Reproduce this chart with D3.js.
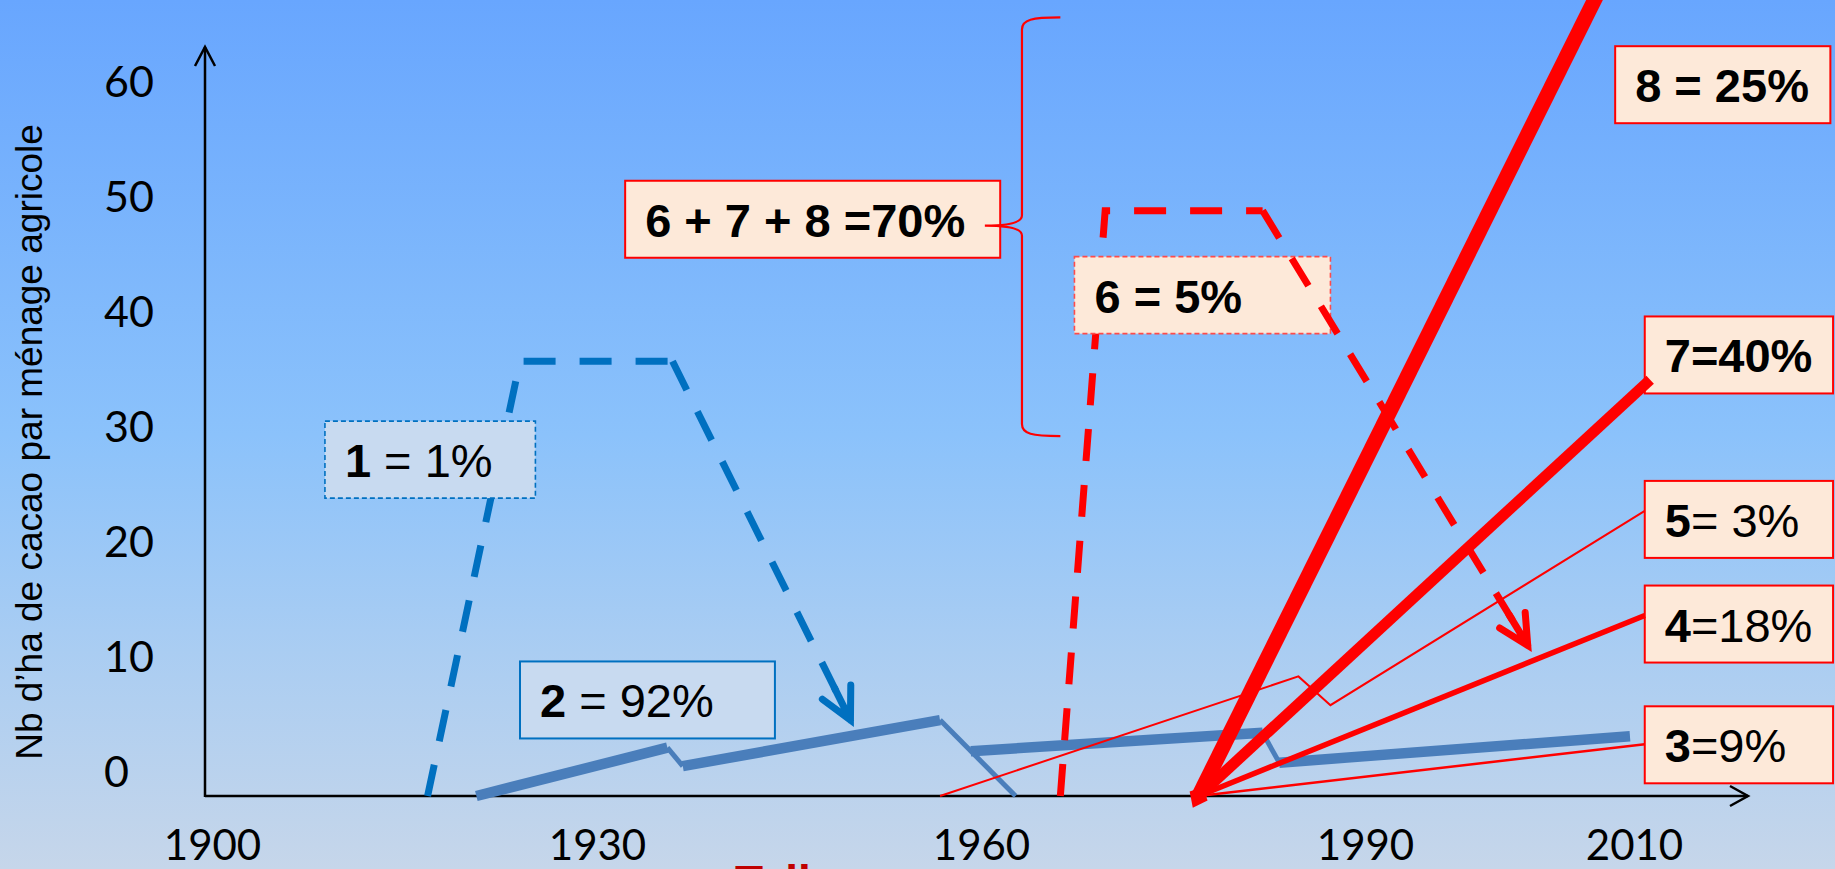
<!DOCTYPE html>
<html>
<head>
<meta charset="utf-8">
<script src="https://cdn.jsdelivr.net/npm/d3@7"></script>
<style>
  html, body { margin: 0; padding: 0; overflow: hidden; background: #c6d6ea; }
  svg { display: block; }
</style>
</head>
<body>
<svg id="chart" width="1835" height="869"></svg>
<script>
// ---------- data ----------
const xTickYears = [1900, 1930, 1960, 1990, 2010];
const yTickValues = [0, 10, 20, 30, 40, 50, 60];
const yTitle = "Nb d\u2019ha de cacao par ménage agricole";

// [year, ha per household]
const traj1 = [[1916.8, 0], [1924.0, 37.8], [1935.9, 37.8], [1949.8, 6.6]];
const traj2Thick = [
  [[1920.6, 0], [1935.5, 4.2]],
  [[1936.7, 2.6], [1956.8, 6.6]],
  [[1959.2, 3.9], [1982.0, 5.5]],
  [[1983.3, 2.9], [2009.7, 5.2]]
];
const traj2Thin = [
  [[1935.5, 4.2], [1936.7, 2.6]],
  [[1956.8, 6.6], [1962.7, 0]],
  [[1982.0, 5.5], [1983.3, 2.9]]
];
const traj3 = [[1977.0, 0], [2010.8, 4.5]];
const traj4 = [[1977.0, 0], [2010.8, 15.7]];
const traj5 = [[1956.8, 0], [1984.8, 10.4], [1987.3, 7.9], [2010.8, 24.8]];
const traj6 = [[1966.2, 0], [1969.7, 50.9], [1982.0, 50.9], [2002.1, 13.1]];
const traj7 = [[1977.0, 0], [2011.2, 36.2]];
const traj8 = [[1977.0, 0], [2008.5, 72.6]];

// callout texts: [text, bold]
const label1 = [["1", true], [" = 1%", false]];
const label2 = [["2", true], [" = 92%", false]];
const label678 = [["6 + 7 + 8 =70%", true]];
const label6 = [["6 = 5%", true]];
const label8 = [["8 = 25%", true]];
const label7 = [["7=40%", true]];
const label5 = [["5", true], ["= 3%", false]];
const label4 = [["4", true], ["=18%", false]];
const label3 = [["3", true], ["=9%", false]];

// ---------- layout ----------
const W = 1835, H = 869;
const axisLeftX = 205, axisBottomY = 796, axisTopY = 47, axisRightX = 1748;
const BOX_H = 77;
const boxLayout = [
  { parts: label1,   x0: 1908.8, x1: 1925.2, top: 32.6, kind: "blueDashed" },
  { parts: label2,   x0: 1924.0, x1: 1943.9, top: 11.7, kind: "blue" },
  { parts: label678, x0: 1932.2, x1: 1961.5, top: 53.5, kind: "red" },
  { parts: label6,   x0: 1967.3, x1: 1987.3, top: 46.9, kind: "redDashed" },
  { parts: label8,   x0: 2008.6, x1: 2024.6, top: 65.2, kind: "red" },
  { parts: label7,   x0: 2010.8, x1: 2024.8, top: 41.7, kind: "red" },
  { parts: label5,   x0: 2010.8, x1: 2024.8, top: 27.4, kind: "red" },
  { parts: label4,   x0: 2010.8, x1: 2024.8, top: 18.3, kind: "red" },
  { parts: label3,   x0: 2010.8, x1: 2024.8, top: 7.8,  kind: "red" }
];
const boxStyles = {
  blue:       { fill: "#c8daf0", stroke: "#0070c0", width: 2,   dash: null },
  blueDashed: { fill: "#c8daf0", stroke: "#0070c0", width: 1.6, dash: "5,3" },
  red:        { fill: "#fde9d9", stroke: "#ff0000", width: 2,   dash: null },
  redDashed:  { fill: "#fde9d9", stroke: "#ff4b4b", width: 1.6, dash: "5,3" }
};

const svg = d3.select("#chart");

// scales (hand-spaced decades on the time axis)
const x = d3.scaleLinear().domain(xTickYears).range([212, 597, 981, 1365, 1634]);
const y = d3.scaleLinear().domain([0, 60]).range([axisBottomY, axisBottomY - 690]);
const line = d3.line().x(d => x(d[0])).y(d => y(d[1]));

// ---------- background ----------
const defs = svg.append("defs");
const grad = defs.append("linearGradient").attr("id", "bg").attr("x1", 0).attr("y1", 0).attr("x2", 0).attr("y2", 1);
[[0, "#68a6fe"], [0.5, "#8bc2fb"], [0.75, "#aacdf2"], [1, "#c6d6ea"]]
  .forEach(([o, c]) => grad.append("stop").attr("offset", o).attr("stop-color", c));
svg.append("rect").attr("width", W).attr("height", H).attr("fill", "url(#bg)");

// ---------- axes ----------
const axes = svg.append("g").attr("stroke", "#000").attr("stroke-width", 2.5).attr("fill", "none");
axes.append("line").attr("x1", axisLeftX).attr("y1", axisBottomY + 1).attr("x2", axisLeftX).attr("y2", axisTopY);
axes.append("path").attr("d", `M${axisLeftX - 10},${axisTopY + 19}L${axisLeftX},${axisTopY}L${axisLeftX + 10},${axisTopY + 19}`);
axes.append("line").attr("x1", axisLeftX).attr("y1", axisBottomY).attr("x2", axisRightX).attr("y2", axisBottomY);
axes.append("path").attr("d", `M${axisRightX - 18},${axisBottomY - 10}L${axisRightX},${axisBottomY}L${axisRightX - 18},${axisBottomY + 10}`);

const tickFont = "Lato, 'DejaVu Sans Condensed', sans-serif";
const gy = svg.append("g").attr("transform", "translate(104,-23)")
  .call(d3.axisLeft(y).tickValues(yTickValues).tickSize(0).tickPadding(0));
gy.select(".domain").remove();
gy.selectAll("text").attr("x", 0).attr("text-anchor", "start")
  .attr("font-family", tickFont).attr("font-size", 43).attr("fill", "#000");

const gx = svg.append("g").attr("transform", "translate(0,845)")
  .call(d3.axisBottom(x).tickValues(xTickYears).tickFormat(d3.format("d")).tickSize(0).tickPadding(0));
gx.select(".domain").remove();
gx.selectAll("text").attr("y", 0).attr("dy", "0.36em")
  .attr("font-family", tickFont).attr("font-size", 42).attr("fill", "#000");

svg.append("text")
  .attr("transform", "translate(42,442) rotate(-90)")
  .attr("text-anchor", "middle")
  .attr("font-family", "'Liberation Sans', Arial, sans-serif")
  .attr("font-size", 37).attr("fill", "#000")
  .text(yTitle);

// ---------- helpers ----------
function drawPath(g, pts, color, width, dash) {
  return g.append("path").attr("d", line(pts)).attr("fill", "none")
    .attr("stroke", color).attr("stroke-width", width)
    .attr("stroke-dasharray", dash || null).attr("stroke-linejoin", "miter");
}
function arrowHead(g, pts, color, width, len, spread) {
  const [p1, p2] = pts.slice(-2).map(d => [x(d[0]), y(d[1])]);
  const ang = Math.atan2(p2[1] - p1[1], p2[0] - p1[0]);
  const a1 = ang + Math.PI - spread, a2 = ang + Math.PI + spread;
  const back = [p2[0] - 36 * Math.cos(ang), p2[1] - 36 * Math.sin(ang)];
  const d = `M${p2[0] + len * Math.cos(a1)},${p2[1] + len * Math.sin(a1)}` +
            `L${p2[0]},${p2[1]}L${p2[0] + len * Math.cos(a2)},${p2[1] + len * Math.sin(a2)}` +
            `M${back[0]},${back[1]}L${p2[0]},${p2[1]}`;
  g.append("path").attr("d", d).attr("fill", "none").attr("stroke", color)
    .attr("stroke-width", width).attr("stroke-linecap", "round").attr("stroke-linejoin", "miter");
}

const BLUE = "#0070c0", STEEL = "#4a7ebb", RED = "#ff0000";
const marks = svg.append("g");

// type 2
traj2Thin.forEach(seg => drawPath(marks, seg, STEEL, 5));
traj2Thick.forEach(seg => drawPath(marks, seg, STEEL, 10.5));

// rising parts of types 1 and 6
drawPath(marks, traj1.slice(0, 3), BLUE, 7, "32,24");
drawPath(marks, traj6.slice(0, 3), RED, 7, "32,24");

// ---------- callout boxes ----------
const boxes = svg.append("g");
boxLayout.forEach(b => {
  const st = boxStyles[b.kind];
  const bx = x(b.x0), by = y(b.top), bw = x(b.x1) - x(b.x0);
  boxes.append("rect").attr("x", bx).attr("y", by).attr("width", bw).attr("height", BOX_H)
    .attr("fill", st.fill).attr("stroke", st.stroke).attr("stroke-width", st.width)
    .attr("stroke-dasharray", st.dash);
  const t = boxes.append("text").attr("x", bx + 20).attr("y", by + BOX_H - 21)
    .attr("font-family", "'Liberation Sans', Arial, sans-serif").attr("font-size", 47).attr("fill", "#000");
  b.parts.forEach(([s, bold]) => t.append("tspan").attr("font-weight", bold ? "bold" : "normal").text(s));
});

// descending parts with arrows
const upper = svg.append("g");
drawPath(upper, traj1.slice(2), BLUE, 7, "32,24");
arrowHead(upper, traj1, BLUE, 7, 35, 0.47);
drawPath(upper, traj6.slice(2), RED, 7, "32,24");
arrowHead(upper, traj6, RED, 7, 33, 0.47);

// types 3, 4, 5, 7, 8
drawPath(upper, traj5, RED, 2);
drawPath(upper, traj3, RED, 2.5);
drawPath(upper, traj4, RED, 5.5);
drawPath(upper, traj7, RED, 11);
drawPath(upper, traj8, RED, 15);

// diamond where types 3/4/7/8 start
(function () {
  const p = [x(traj8[0][0]), y(traj8[0][1])];
  const q = [x(traj8[1][0]), y(traj8[1][1])];
  const L = Math.hypot(q[0] - p[0], q[1] - p[1]);
  const u = [(q[0] - p[0]) / L, (q[1] - p[1]) / L], n = [-u[1], u[0]];
  const pts = [[p[0] + u[0] * 10, p[1] + u[1] * 10], [p[0] + n[0] * 10, p[1] + n[1] * 10],
               [p[0] - u[0] * 13, p[1] - u[1] * 13], [p[0] - n[0] * 10, p[1] - n[1] * 10]];
  upper.append("polygon").attr("points", pts.map(d => d.join(",")).join(" ")).attr("fill", RED);
})();

// brace grouping 6, 7 and 8
(function () {
  const bx = x(1963.2), tipX = x(1960.3), endX = x(1966.2);
  const yT = y(67.7), yM = y(49.6), yB = y(31.3);
  const d = `M${endX},${yT}C${bx + 10},${yT} ${bx},${yT + 2} ${bx},${yT + 12}` +
            `L${bx},${yM - 10}C${bx},${yM - 3} ${bx - 12},${yM} ${tipX},${yM}` +
            `C${bx - 12},${yM} ${bx},${yM + 3} ${bx},${yM + 10}` +
            `L${bx},${yB - 12}C${bx},${yB - 2} ${bx + 10},${yB} ${endX},${yB}`;
  upper.append("path").attr("d", d).attr("fill", "none").attr("stroke", RED).attr("stroke-width", 2.2);
})();

// partially visible caption at the bottom edge
svg.append("text").attr("x", 735).attr("y", 898)
  .attr("font-family", "'Liberation Sans', Arial, sans-serif").attr("font-weight", "bold")
  .attr("font-size", 46).attr("fill", "#c00000").text("Tell");
</script>
</body>
</html>
